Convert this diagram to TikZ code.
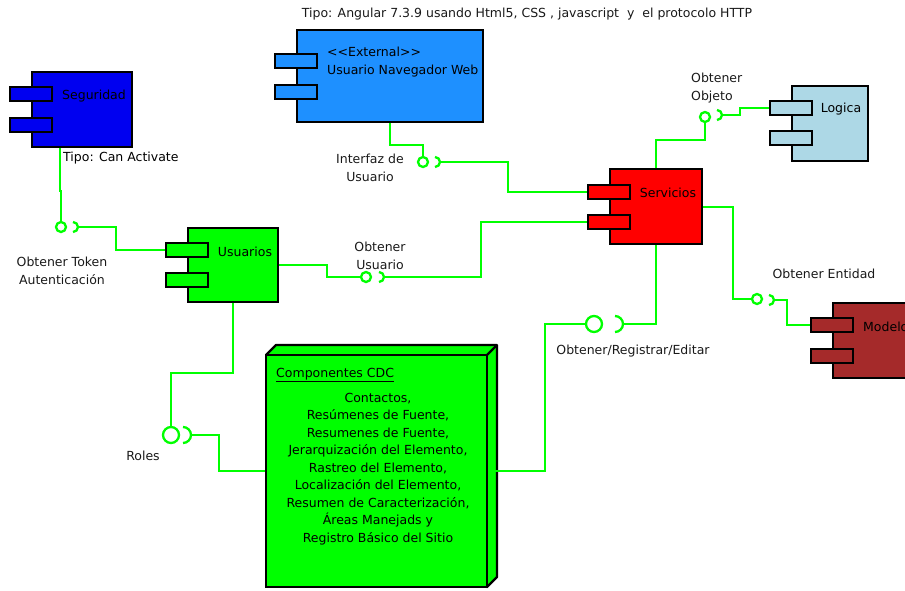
\documentclass[tikz,border=0pt]{standalone}
\usepackage{fontspec}
\setmainfont{DejaVu Sans}
\usetikzlibrary{positioning}
\definecolor{wiregreen}{RGB}{0,255,0}
\definecolor{segblue}{RGB}{0,0,240}
\definecolor{navblue}{RGB}{30,144,255}
\definecolor{srvred}{RGB}{255,0,0}
\definecolor{loglight}{RGB}{173,216,230}
\definecolor{modbrown}{RGB}{165,42,42}
\definecolor{cdcgreen}{RGB}{0,255,0}

\begin{document}
\begin{tikzpicture}[x=1pt,y=-1pt,
	comp/.style={draw=black,line width=2.3pt,outer sep=1.15pt,anchor=north west,inner sep=0pt},
	port/.style={comp,minimum width=42pt,minimum height=14pt},
	wire/.style={draw=wiregreen,line width=2.3pt},
	lolly/.style={circle,draw=wiregreen,line width=2.3pt,inner sep=0pt,outer sep=1.15pt,minimum size=10pt},
	bigl/.style={lolly,minimum size=16pt},
	lbl/.style={align=center,text=black!90}]
		\tikzstyle{every node}+=[inner sep=0pt,font=\fontsize{12.5}{17.5}\selectfont]
		\useasboundingbox (0,0) rectangle (905,590);
		\node [lbl] (title) at (527,14) {Tipo: Angular 7.3.9 usando Html5, CSS , javascript \ y \ el protocolo HTTP};
		\node [comp,fill=segblue,minimum width=100pt,minimum height=75pt] (seg) at (31,71) {};
		\node [port,fill=segblue] (seg1) at (9,86) {};
		\node [port,fill=segblue] (seg2) at (9,117) {};
		\node at (94,96) {Seguridad};
		\node [comp,fill=cdcgreen,minimum width=90pt,minimum height=74pt] (usr) at (187,227) {};
		\node [port,fill=cdcgreen] (usr1) at (165,242) {};
		\node [port,fill=cdcgreen] (usr2) at (165,272) {};
		\node at (245,252) {Usuarios};
		\node [comp,fill=navblue,minimum width=186pt,minimum height=92pt] (nav) at (296,29) {};
		\node [port,fill=navblue] (nav1) at (274,53) {};
		\node [port,fill=navblue] (nav2) at (274,84) {};
		\node [align=left,anchor=west] at (327,62) {<{}<External>{}>\\Usuario Navegador Web};
		\node [comp,fill=srvred,minimum width=92pt,minimum height=75pt] (srv) at (609,168) {};
		\node [port,fill=srvred] (srv1) at (587,184) {};
		\node [port,fill=srvred] (srv2) at (587,214) {};
		\node at (668,193) {Servicios};
		\node [comp,fill=loglight,minimum width=76pt,minimum height=75pt] (log) at (791,85) {};
		\node [port,fill=loglight] (log1) at (769,100) {};
		\node [port,fill=loglight] (log2) at (769,130) {};
		\node at (841,109) {Logica};
		\node [comp,fill=modbrown,minimum width=80pt,minimum height=75pt] (mod) at (832,302) {};
		\node [port,fill=modbrown] (mod1) at (810,317) {};
		\node [port,fill=modbrown] (mod2) at (810,348) {};
		\node [anchor=west] at (863,327) {Modelo};
		\fill [cdcgreen,draw=black,line width=2.3pt,line join=round] (266,355) -- (276,345) -- (497,345) -- (497,577) -- (487,587) -- cycle;
		\draw [black,line width=2.3pt] (487,355) -- (497,345);
		\node [comp,fill=cdcgreen,minimum width=221pt,minimum height=232pt] (cdc) at (265,354) {};
		\node [anchor=west] at (276,375) {\underline{Componentes CDC}};
		\node [align=center] at (378,469) {Contactos,\\Resúmenes de Fuente,\\Resumenes de Fuente,\\Jerarquización del Elemento,\\Rastreo del Elemento,\\Localización del Elemento,\\Resumen de Caracterización,\\Áreas Manejads y\\Registro Básico del Sitio};
		\node [lolly] (tok) at (61,227) {};
		\coordinate (tokS) at (78,227);
		\node [lolly] (ifz) at (423,162) {};
		\coordinate (ifzS) at (440,162);
		\node [lolly] (obu) at (366,277) {};
		\coordinate (obuS) at (384,277);
		\node [bigl] (rol) at (171,435) {};
		\coordinate (rolS) at (191,435);
		\node [bigl] (ore) at (594,324) {};
		\coordinate (oreS) at (623,324);
		\node [lolly] (obj) at (705,117) {};
		\coordinate (objS) at (722,115);
		\node [lolly] (ent) at (757,299) {};
		\coordinate (entS) at (774,300);
		\draw [wire] (tokS) ++(-5,-5) arc (-90:90:5);
		\draw [wire] (ifzS) ++(-5,-5) arc (-90:90:5);
		\draw [wire] (obuS) ++(-5,-5) arc (-90:90:5);
		\draw [wire] (objS) ++(-5,-5) arc (-90:90:5);
		\draw [wire] (entS) ++(-5,-5) arc (-90:90:5);
		\draw [wire] (rolS) ++(-8,-8) arc (-90:90:8);
		\draw [wire] (oreS) ++(-8,-8) arc (-90:90:8);
		\draw [wire] ([xshift=29pt]seg.south west) -- ++(0,43) -| (tok.north);
		\draw [wire] (tokS) -- ++(38,0) |- (usr1.west);
		\draw [wire] (nav.south) -- ++(0,22) -| (ifz.north);
		\draw [wire] (ifzS) -- ++(68,0) |- (srv1.west);
		\draw [wire] (usr.east) -- ++(48,0) |- (obu.west);
		\draw [wire] (obuS) -- ++(97,0) |- (srv2.west);
		\draw [wire] (usr.south) -- ++(0,70) -| (rol.north);
		\draw [wire] (rolS) -- ++(28,0) |- (cdc.west);
		\draw [wire] (srv.south) |- (oreS);
		\draw [wire] (ore.west) -- ++(-40,0) |- (cdc.east);
		\draw [wire] (srv.north) -- ++(0,-28) -| (obj.south);
		\draw [wire] (objS) -- ++(18,0) |- (log1.west);
		\draw [wire] (srv.east) -- ++(30,0) |- (ent.west);
		\draw [wire] (entS) -- ++(13,0) |- (mod1.west);
		\node [anchor=west] at (63,158) {Tipo: Can Activate};
		\node [lbl] at (62,271) {Obtener Token\\Autenticación};
		\node [lbl] at (370,168) {Interfaz de\\Usuario};
		\node [lbl] at (380,256) {Obtener\\Usuario};
		\node [lbl,align=left,anchor=west] at (691,88) {Obtener\\Objeto};
		\node [lbl] at (824,274) {Obtener Entidad};
		\node [lbl] at (633,351) {Obtener/Registrar/Editar};
		\node [lbl] at (143,456) {Roles};
\end{tikzpicture}
\end{document}
